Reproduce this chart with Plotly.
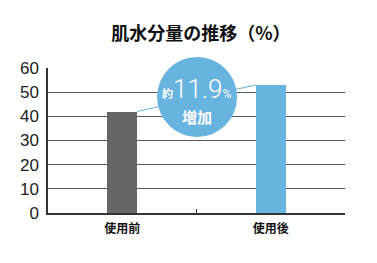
import plotly.graph_objects as go

categories = ["使用前", "使用後"]
values = [42, 53]
bar_colors = ["#666666", "#68b4e0"]
y_ticks = [0, 10, 20, 30, 40, 50, 60]
title_text = "肌水分量の推移（%）"
badge_value = "11.9"
badge_prefix = "約"
badge_suffix = "%"
badge_bottom = "増加"

fig = go.Figure()
fig.add_trace(go.Bar(
    x=categories, y=values, marker=dict(color=bar_colors, line=dict(width=0)),
    width=0.2, showlegend=False, hoverinfo="skip"
))

# connector line from bar top to bar top
fig.add_shape(type="line", xref="x", yref="y",
              x0=0.1, y0=values[0], x1=0.9, y1=values[1],
              line=dict(color="#68b4e0", width=1), layer="above")
# badge circle (paper-referenced so it is not clipped by the plot area)
fig.add_shape(type="circle", xref="paper", yref="paper",
              xsizemode="pixel", ysizemode="pixel",
              xanchor=0.502, yanchor=0.8,
              x0=-40, x1=40, y0=-40, y1=40,
              fillcolor="#68b4e0", line=dict(width=0), layer="above")

fig.add_annotation(
    xref="paper", yref="paper", x=0.502, y=0.8, yshift=8, showarrow=False,
    xanchor="center", yanchor="middle",
    text=(f"<span style='font-size:11px;font-family:Noto Sans CJK JP;font-weight:bold'>{badge_prefix}</span>"
          f"<span style='font-size:26px'>{badge_value}</span>"
          f"<span style='font-size:12px;font-weight:normal'>{badge_suffix}</span>"),
    font=dict(family="Roboto", color="white", size=26, weight=300),
)
fig.add_annotation(
    xref="paper", yref="paper", x=0.502, y=0.8, yshift=-19, showarrow=False,
    xanchor="center", yanchor="middle",
    text=badge_bottom,
    font=dict(family="Noto Sans CJK JP", color="white", size=15, weight="bold"),
)

fig.update_layout(
    width=377, height=263,
    margin=dict(l=48, r=32, t=68, b=50),
    paper_bgcolor="white", plot_bgcolor="white",
    title=dict(text=title_text, xref="paper", x=0.515, xanchor="center", y=0.87, yanchor="middle",
               font=dict(family="Noto Sans CJK JP", size=18, color="#111", weight="bold")),
    bargap=0,
)
fig.update_yaxes(
    range=[0, 60], tickvals=y_ticks, showgrid=True, gridcolor="#5a5a5a", gridwidth=1,
    showline=True, linecolor="#333", linewidth=1.5, zeroline=False,
    tickfont=dict(family="Liberation Sans", size=17, color="#222"),
    ticks="", ticklabelstandoff=4,
)
fig.update_xaxes(
    range=[-0.5, 1.5], showline=True, linecolor="#333", linewidth=2,
    tickson="boundaries", ticks="inside", ticklen=4, tickcolor="#333",
    tickfont=dict(family="Noto Sans CJK JP", size=12, color="#111", weight="bold"),
    showgrid=False, ticklabelstandoff=4,
)

fig.write_html("out.html")
